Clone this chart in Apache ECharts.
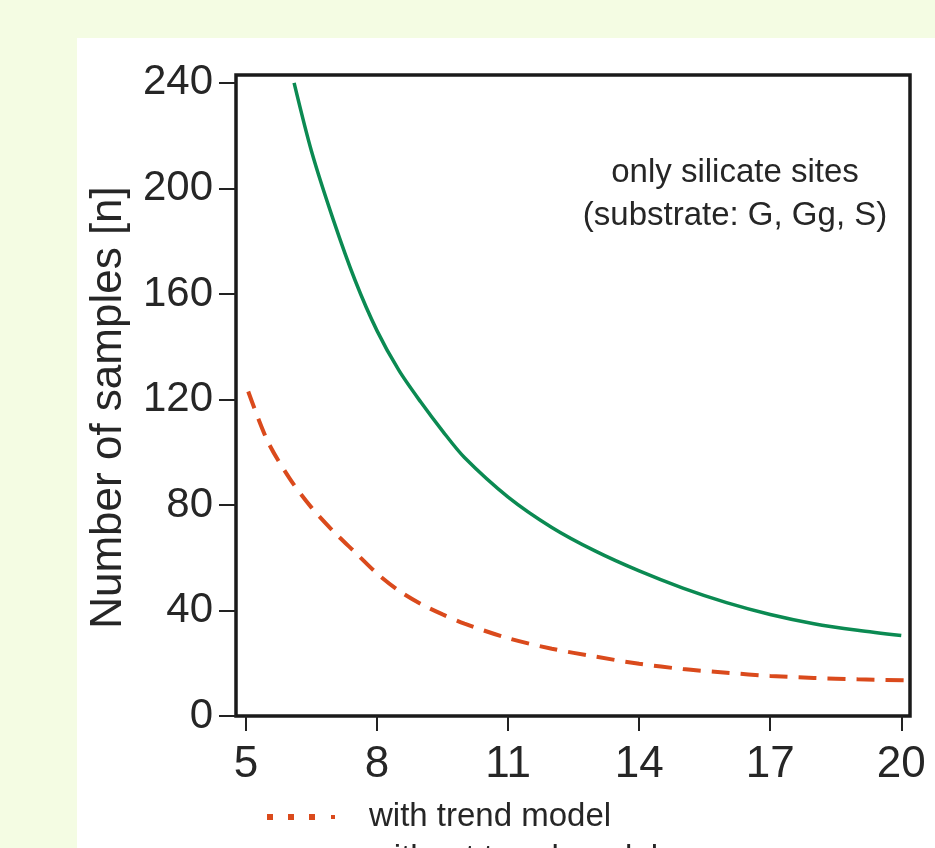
<!DOCTYPE html>
<html>
<head>
<meta charset="utf-8">
<script src="https://cdn.jsdelivr.net/npm/echarts@6.0.0/dist/echarts.min.js"></script>
<style>
  html, body { margin: 0; padding: 0; background: #f4fce3; }
  #panel { position: absolute; left: 77px; top: 38px; width: 858px; height: 810px; background: #ffffff; }
  #chart { position: absolute; left: 0; top: 0; width: 935px; height: 848px; }
</style>
</head>
<body>
<div id="panel"></div>
<div id="chart"></div>
<script>
// ---- data ----
const xTicks = [5, 8, 11, 14, 17, 20];
const yTicks = [0, 40, 80, 120, 160, 200, 240];

const withoutTrendX = [6.1, 6.5, 7.0, 7.5, 8.0, 8.5, 9.0, 9.5, 10, 11, 12, 13, 14, 15, 16, 17, 18, 19, 20];
const withoutTrendY = [240, 214, 188, 165, 146, 131, 119, 108, 98, 83, 71.5, 62.5, 55, 48.5, 43, 38.5, 35, 32.5, 30.5];

const withTrendX = [5.05, 5.5, 6, 6.5, 7, 7.5, 8, 8.5, 9, 9.5, 10, 11, 12, 13, 14, 15, 16, 17, 18, 19, 20.1];
const withTrendY = [123, 104, 90, 79, 70, 62, 54, 47.5, 42.5, 38.5, 35, 29.5, 25.5, 22.5, 19.8, 17.8, 16.4, 15.2, 14.4, 13.9, 13.5];

const seriesNames = ['with trend model', 'without trend model'];
const annotation = 'only silicate sites\n(substrate: G, Gg, S)';
const yTitle = 'Number of samples [n]';

const pairs = (xs, ys) => xs.map((x, i) => [x, ys[i]]);

const FONT = "'Liberation Sans', Arial, sans-serif";
const TEXT = '#262626';
const RED = '#da4a1c';
const GREEN = '#0b8a52';

const legendText = { fontFamily: FONT, fontSize: 33, color: TEXT, lineHeight: 36, padding: [0, 0, 0, 28] };

const chart = echarts.init(document.getElementById('chart'), null, { renderer: 'canvas' });
chart.setOption({
  backgroundColor: 'transparent',
  animation: false,
  textStyle: { fontFamily: FONT },
  title: {
    text: annotation,
    left: 730,
    top: 146,
    textAlign: 'center',
    textStyle: { fontFamily: FONT, fontSize: 33, fontWeight: 'normal', color: TEXT, lineHeight: 43 }
  },
  grid: {
    left: 236, top: 75, width: 674, height: 641,
    show: true, borderColor: '#1a1a1a', borderWidth: 3.5, backgroundColor: 'transparent'
  },
  legend: [
    {
      orient: 'vertical', left: 262, top: 794, itemWidth: 70, itemHeight: 6,
      textStyle: legendText,
      data: [{ name: seriesNames[0], icon: 'path://M0,0h6v6h-6zM21,0h6v6h-6zM42,0h6v6h-6zM64,1h4v4h-4z' }]
    },
    {
      orient: 'vertical', left: 262, top: 836, itemWidth: 70, itemHeight: 6,
      textStyle: legendText,
      data: [{ name: seriesNames[1], icon: 'path://M0,0h70v6h-70z' }]
    }
  ],
  xAxis: {
    type: 'value',
    min: 4.77,
    max: 20.2,
    offset: 7,
    axisLine: { show: false },
    splitLine: { show: false },
    axisTick: { show: true, length: 15, lineStyle: { color: '#222', width: 2 }, customValues: xTicks },
    axisLabel: { fontFamily: FONT, fontSize: 44, color: TEXT, margin: 20, customValues: xTicks }
  },
  yAxis: {
    type: 'value',
    min: 0,
    max: 243,
    axisLine: { show: false },
    splitLine: { show: false },
    axisTick: { show: true, length: 17, lineStyle: { color: '#222', width: 2 }, customValues: yTicks },
    axisLabel: { fontFamily: FONT, fontSize: 42, color: TEXT, margin: 23, customValues: yTicks },
    name: yTitle,
    nameLocation: 'middle',
    nameRotate: 90,
    nameGap: 105,
    nameTextStyle: { fontFamily: FONT, fontSize: 44, color: TEXT, padding: [0, 24, 0, 0] }
  },
  series: [
    {
      name: seriesNames[0],
      type: 'line',
      data: pairs(withTrendX, withTrendY),
      smooth: 0.3,
      symbol: 'none',
      lineStyle: { color: RED, width: 4, type: [18, 11] },
      itemStyle: { color: RED }
    },
    {
      name: seriesNames[1],
      type: 'line',
      data: pairs(withoutTrendX, withoutTrendY),
      smooth: 0.3,
      symbol: 'none',
      lineStyle: { color: GREEN, width: 3.5 },
      itemStyle: { color: GREEN }
    }
  ]
});
</script>
</body>
</html>
